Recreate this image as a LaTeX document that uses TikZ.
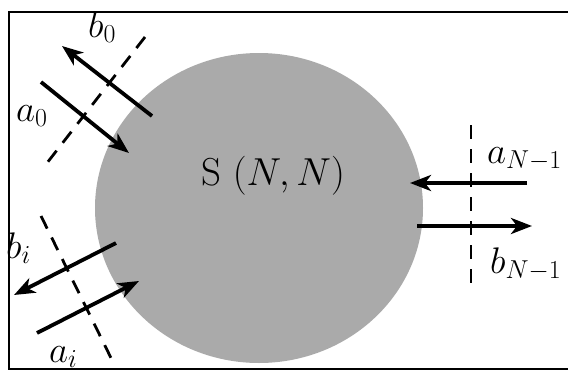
\RequirePackage{fix-cm}
\documentclass[tikz,border=0pt]{standalone}
\usetikzlibrary{arrows.meta,shapes.geometric}
\definecolor{discgray}{RGB}{170,170,170}
\begin{document}
\begin{tikzpicture}[x=1pt,y=-1pt,
  port/.style={line width=3.8pt,-{Stealth[length=21pt,width=16pt,inset=6pt]}},
  cut/.style={line width=2.8pt,dash pattern=on 14pt off 10pt},
  lbl/.style={inner sep=0pt,anchor=base west,font=\fontsize{37}{42}\selectfont},
  frame/.style={line width=1.8pt}]
\useasboundingbox (0,0) rectangle (568,372);
\clip (0,0) rectangle (568,372);
\fill[white] (0,0) rectangle (568,372);
% frame
\coordinate (f1) at (575,12);
\coordinate (f2) at (9,12);
\coordinate (f3) at (9,369);
\coordinate (f4) at (575,369);
\draw[frame] (f1) -- (f2) -- (f3) -- (f4);
% scattering disc
\node[ellipse,fill=discgray,draw=none,minimum width=328pt,minimum height=310pt,inner sep=0pt] (S) at (259,208) {};
\node[inner sep=0pt,font=\fontsize{39}{45}\selectfont] (Slbl) at (273,176) {S $(N,N)$};
% port 0
\coordinate (a0s) at (41,82);  \coordinate (a0e) at (129,153);
\coordinate (b0s) at (152,116); \coordinate (b0e) at (62,46);
\coordinate (c0s) at (145,37); \coordinate (c0e) at (47,163);
\draw[port] (a0s) -- (a0e);
\draw[port] (b0s) -- (b0e);
\draw[cut] (c0s) -- (c0e);
\node[lbl] (la0) at (16,121) {$a_0$};
\node[lbl] (lb0) at (88,37) {$b_0$};
% port i
\coordinate (bis) at (116,243); \coordinate (bie) at (14,295);
\coordinate (ais) at (37,333);  \coordinate (aie) at (139,281);
\coordinate (cis) at (41,216);  \coordinate (cie) at (113,362);
\draw[port] (ais) -- (aie);
\draw[port] (bis) -- (bie);
\draw[cut] (cis) -- (cie);
\node[lbl] (lbi) at (6,258) {$b_i$};
\node[lbl] (lai) at (49,362) {$a_i$};
% port N-1
\coordinate (ans) at (527,183); \coordinate (ane) at (410,183);
\coordinate (bns) at (417,226); \coordinate (bne) at (532,226);
\coordinate (cns) at (471,125); \coordinate (cne) at (471,290);
\draw[port] (ans) -- (ane);
\draw[port] (bns) -- (bne);
\draw[cut] (cns) -- (cne);
\node[lbl] (lan) at (487,163) {$a_{N-1}$};
\node[lbl] (lbn) at (490,273) {$b_{N-1}$};
\end{tikzpicture}
\end{document}
